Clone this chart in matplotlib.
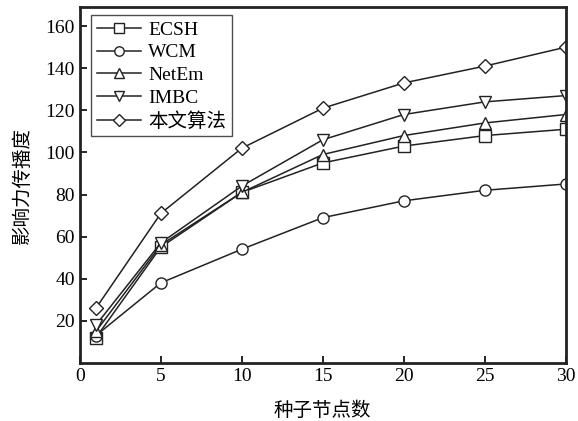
import matplotlib
matplotlib.use('Agg')
import matplotlib.pyplot as plt

# seed node counts and influence spread per method
seeds = [1, 5, 10, 15, 20, 25, 30]
ecsh = [12, 55, 81, 95, 103, 108, 111]
wcm = [13, 38, 54, 69, 77, 82, 85]
netem = [15, 56, 81, 99, 108, 114, 118]
imbc = [18, 57, 84, 106, 118, 124, 127]
ours = [26, 71, 102, 121, 133, 141, 150]

names = ['ECSH', 'WCM', 'NetEm', 'IMBC', '本文算法']
markers = ['s', 'o', '^', 'v', 'D']
series = [ecsh, wcm, netem, imbc, ours]

plt.rcParams['font.family'] = ['Liberation Serif', 'Noto Sans CJK SC']

fig = plt.figure(figsize=(5.78, 4.21), dpi=100)
ax = fig.add_axes([0.138, 0.138, 0.841, 0.845])

for vals, name, m in zip(series, names, markers):
    ms = 7 if m == 'D' else 8
    ax.plot(seeds, vals, marker=m, color='#222222', lw=1.1, ms=ms,
            mfc='white', mec='#222222', mew=1.0, label=name)

ax.set_xlim(0, 30)
ax.set_ylim(0, 169)
ax.set_xticks([0, 5, 10, 15, 20, 25, 30])
ax.set_yticks([20, 40, 60, 80, 100, 120, 140, 160])
ax.tick_params(direction='in', labelsize=14, length=5, width=1.2)
for s in ax.spines.values():
    s.set_linewidth(2)
    s.set_color('#222222')

ax.set_xlabel('种子节点数', fontsize=14, fontweight='medium',
              family=['Noto Sans CJK SC'], labelpad=11)
ax.set_ylabel('影响力传播度', fontsize=14, fontweight='medium',
              family=['Noto Sans CJK SC'], labelpad=9)

leg = ax.legend(loc='upper left', bbox_to_anchor=(0.023, 0.977),
                frameon=True, fancybox=False,
                edgecolor='#222222', handlelength=2.3, handletextpad=0.35,
                labelspacing=0.26, borderpad=0.3, borderaxespad=0,
                markerscale=0.85,
                prop={'family': ['Liberation Serif', 'Noto Sans CJK SC'], 'size': 14})
leg.get_frame().set_linewidth(1.0)

fig.savefig('out.png', dpi=100)
